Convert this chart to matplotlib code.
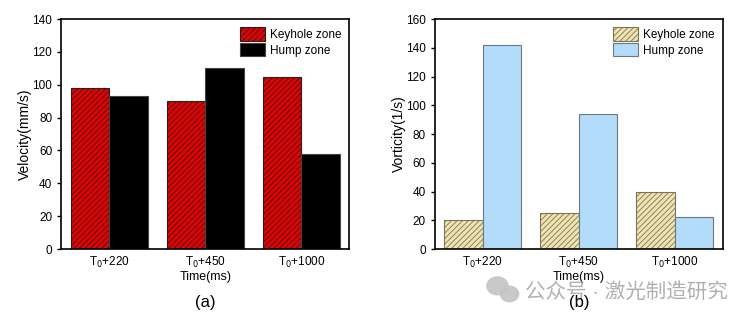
import numpy as np
import matplotlib.pyplot as plt
from matplotlib.patches import Ellipse

plt.rcParams['font.family'] = ['Liberation Sans', 'Noto Sans CJK SC', 'DejaVu Sans']
plt.rcParams['hatch.linewidth'] = 0.6

# dados das duas figuras
tempos = ["T$_0$+220", "T$_0$+450", "T$_0$+1000"]
vel_keyhole = [98, 90, 105]
vel_hump = [93, 110, 58]
vort_keyhole = [20, 25, 40]
vort_hump = [142, 94, 22]

x = np.arange(len(tempos))
w = 0.4

fig = plt.figure(figsize=(7.56, 3.23), dpi=100)
ax1 = fig.add_axes([0.081, 0.229, 0.381, 0.712])
ax2 = fig.add_axes([0.575, 0.229, 0.381, 0.712])

# (a) velocidade
ax1.bar(x - w / 2, vel_keyhole, w, color="#e60000", edgecolor="#222222",
        hatch="//////", linewidth=0.8, label="Keyhole zone")
ax1.bar(x + w / 2, vel_hump, w, color="black", edgecolor="#444444",
        linewidth=0.8, label="Hump zone")
ax1.set_ylim(0, 140)
ax1.set_yticks(range(0, 141, 20))
ax1.set_ylabel("Velocity(mm/s)", fontsize=10, labelpad=0)

# (b) vorticidade
ax2.bar(x - w / 2, vort_keyhole, w, color="#efe3b0", edgecolor="#7d7356",
        hatch="//////", linewidth=0.8, label="Keyhole zone")
ax2.bar(x + w / 2, vort_hump, w, color="#b3dcfb", edgecolor="#6a7886",
        linewidth=0.8, label="Hump zone")
ax2.set_ylim(0, 160)
ax2.set_yticks(range(0, 161, 20))
ax2.set_ylabel("Vorticity(1/s)", fontsize=10, labelpad=0)

for ax in (ax1, ax2):
    ax.set_xlim(-0.5, 2.5)
    ax.set_xticks(x)
    ax.set_xticklabels(tempos)
    ax.set_xlabel("Time(ms)", fontsize=9, labelpad=1)
    ax.tick_params(axis="y", direction="out", length=3, labelsize=8.5, width=1)
    ax.tick_params(axis="x", length=0, labelsize=8.5, pad=4)
    for s in ax.spines.values():
        s.set_linewidth(1.2)
    ax.legend(loc="upper right", fontsize=8.5, frameon=False, handlelength=2.1,
              handleheight=1.4, labelspacing=0.15, borderaxespad=0.3,
              handletextpad=0.4)

# marca d'agua (icone + texto)
for cx, cy, ew, eh in [(0.658, 0.115, 0.028, 0.055), (0.674, 0.09, 0.024, 0.048)]:
    fig.patches.append(Ellipse((cx, cy), ew, eh, transform=fig.transFigure,
                               color="#c4c4c4", alpha=0.9))
fig.text(0.694, 0.096, "公众号 · 激光制造研究", ha="left", va="center",
         fontsize=14.8, color="#a8a8a8", alpha=0.9)

fig.text(0.271, 0.062, "(a)", ha="center", va="center", fontsize=12)
fig.text(0.766, 0.062, "(b)", ha="center", va="center", fontsize=12)

fig.savefig("out.png", dpi=100)
